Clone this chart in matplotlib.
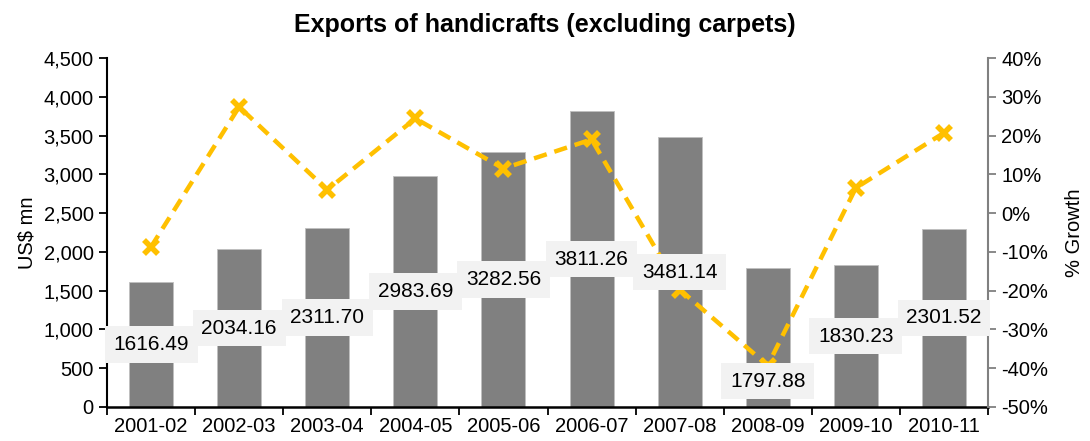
import numpy as np
import matplotlib.pyplot as plt
from matplotlib.ticker import FuncFormatter, FixedLocator

plt.rcParams['font.family'] = ['Liberation Sans', 'DejaVu Sans']

years = ['2001-02', '2002-03', '2003-04', '2004-05', '2005-06',
         '2006-07', '2007-08', '2008-09', '2009-10', '2010-11']
exports = [1616.49, 2034.16, 2311.70, 2983.69, 3282.56,
           3811.26, 3481.14, 1797.88, 1830.23, 2301.52]
growth = [-8.7, 27.4, 6.0, 24.4, 11.5, 19.0, -19.7, -39.3, 6.5, 20.7]

x = np.arange(len(years))

fig = plt.figure(figsize=(10.9, 4.41), dpi=100)
ax = fig.add_axes([107 / 1090, 34 / 441, 881 / 1090, 349 / 441])
ax2 = ax.twinx()

ax.bar(x, exports, width=0.5, color='#808080', edgecolor='#bfbfbf', linewidth=0.6, zorder=2)
ax.set_xlim(-0.5, len(years) - 0.5)
ax.set_ylim(0, 4500)
ax.set_yticks(np.arange(0, 4501, 500))
ax.yaxis.set_major_formatter(FuncFormatter(lambda v, p: f'{v:,.0f}'))
ax.set_ylabel('US$ mn', fontsize=14.5, labelpad=5)

ax.set_xticks(x)
ax.set_xticklabels(years)
ax.xaxis.set_minor_locator(FixedLocator(np.arange(-0.5, len(years), 1.0)))
ax.tick_params(axis='x', which='major', length=0, labelsize=14.5, pad=7)
ax.tick_params(axis='x', which='minor', length=6, width=1.3, direction='out')
ax.tick_params(axis='y', labelsize=14.5, length=6, width=1.3, direction='out')

for side in ['top', 'right']:
    ax.spines[side].set_visible(False)
ax.spines['left'].set_linewidth(1.5)
ax.spines['bottom'].set_linewidth(1.8)

# growth line on the secondary axis
ax2.plot(x, growth, color='#FFC000', linestyle=(0, (3, 1.8)), linewidth=3.2,
         marker='x', markersize=10, markeredgewidth=4, zorder=2)
ax2.set_ylim(-50, 40)
ax2.set_yticks(np.arange(-50, 41, 10))
ax2.yaxis.set_major_formatter(FuncFormatter(lambda v, p: f'{v:.0f}%'))
ax2.tick_params(axis='y', labelsize=14.5, length=6, width=1.3, direction='out', colors='#808080',
                labelcolor='black')
ax2.set_ylabel('% Growth', fontsize=14.5, labelpad=12)
for side in ['top', 'left', 'bottom']:
    ax2.spines[side].set_visible(False)
ax2.spines['right'].set_color('#808080')
ax2.spines['right'].set_linewidth(1.5)

# value labels in the middle of each bar, drawn above the line
label_pos = [v / 2 for v in exports]
label_pos[7] = 335
for xi, v, yp in zip(x, exports, label_pos):
    ax2.text(xi, yp, f'{v:.2f}', transform=ax.transData, ha='center', va='center',
             fontsize=15, zorder=5,
             bbox=dict(boxstyle='square,pad=0.42', facecolor='#F2F2F2', edgecolor='none'))

fig.suptitle('Exports of handicrafts (excluding carpets)', fontsize=18, fontweight='bold', y=0.97)

fig.savefig('out.png', dpi=100)
